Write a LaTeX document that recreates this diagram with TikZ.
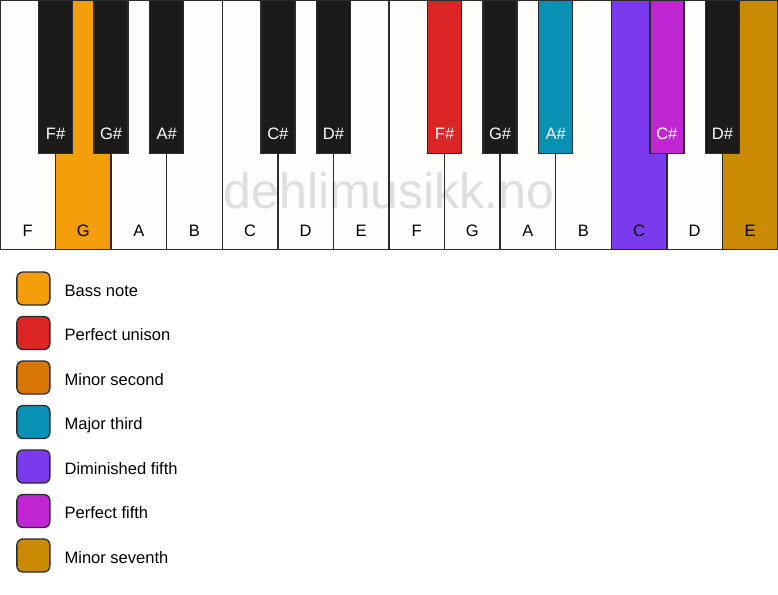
\documentclass[tikz,border=0pt]{standalone}
\usepackage{fontspec}
\setmainfont{Liberation Sans}
\usepackage{xcolor}
\usetikzlibrary{positioning}

\definecolor{keyline}{HTML}{2B2B2B}
\definecolor{keywhite}{HTML}{FFFDF9}
\definecolor{keyblack}{HTML}{1C1B19}
\definecolor{bassnote}{HTML}{F59E0B}
\definecolor{unison}{HTML}{DC2626}
\definecolor{minsecond}{HTML}{D97706}
\definecolor{majthird}{HTML}{0891B2}
\definecolor{dimfifth}{HTML}{7C3AED}
\definecolor{perffifth}{HTML}{C026D3}
\definecolor{minseventh}{HTML}{CA8A04}

\newcommand{\keyfont}{\fontsize{12.4}{14}\selectfont}

\tikzset{
  wkey/.style={draw=keyline, line width=1pt, fill=keywhite, anchor=north west,
    minimum width=41.68pt, minimum height=186.75pt, inner sep=0pt, outer sep=0pt},
  bkey/.style={draw=keyline, line width=1pt, fill=keyblack, anchor=north,
    minimum width=25.5pt, minimum height=114.75pt, inner sep=0pt, outer sep=0pt},
  wlabel/.style={anchor=base, font=\keyfont, text=black, inner sep=0pt},
  blabel/.style={anchor=base, font=\keyfont, text=white, inner sep=0pt},
  legbox/.style={draw=keyline, line width=1pt, rounded corners=4.5pt,
    minimum size=24.75pt, inner sep=0pt},
  legtext/.style={anchor=base west, font=\keyfont, inner sep=0pt},
}

\begin{document}
\begin{tikzpicture}[x=0.75pt, y=-0.75pt]
\useasboundingbox[fill=white] (0,0) rectangle (778,594);
%white keys
\node[wkey] (wF1) at (0.5,0.5) {};
\node[wkey, fill=bassnote] (wG1) at (55.57,0.5) {};
\node[wkey] (wA1) at (111.14,0.5) {};
\node[wkey] (wB1) at (166.71,0.5) {};
\node[wkey] (wC1) at (222.29,0.5) {};
\node[wkey] (wD1) at (277.86,0.5) {};
\node[wkey] (wE1) at (333.43,0.5) {};
\node[wkey] (wF2) at (389.00,0.5) {};
\node[wkey] (wG2) at (444.57,0.5) {};
\node[wkey] (wA2) at (500.14,0.5) {};
\node[wkey] (wB2) at (555.71,0.5) {};
\node[wkey, fill=dimfifth] (wC2) at (611.29,0.5) {};
\node[wkey] (wD2) at (666.86,0.5) {};
\node[wkey, fill=minseventh, minimum width=41.3pt] (wE2) at (722.43,0.5) {};

\node[wlabel] (lF1) at (27.79,236) {F};
\node[wlabel] (lG1) at (83.36,236) {G};
\node[wlabel] (lA1) at (138.93,236) {A};
\node[wlabel] (lB1) at (194.50,236) {B};
\node[wlabel] (lC1) at (250.07,236) {C};
\node[wlabel] (lD1) at (305.64,236) {D};
\node[wlabel] (lE1) at (361.21,236) {E};
\node[wlabel] (lF2) at (416.79,236) {F};
\node[wlabel] (lG2) at (472.36,236) {G};
\node[wlabel] (lA2) at (527.93,236) {A};
\node[wlabel] (lB2) at (583.50,236) {B};
\node[wlabel] (lC2) at (639.07,236) {C};
\node[wlabel] (lD2) at (694.64,236) {D};
\node[wlabel] (lE2) at (750.21,236) {E};

%black keys
\node[bkey] (bFs1) at (55.57,0.5) {};
\node[bkey] (bGs1) at (111.14,0.5) {};
\node[bkey] (bAs1) at (166.71,0.5) {};
\node[bkey] (bCs1) at (277.86,0.5) {};
\node[bkey] (bDs1) at (333.43,0.5) {};
\node[bkey, fill=unison] (bFs2) at (444.57,0.5) {};
\node[bkey] (bGs2) at (500.14,0.5) {};
\node[bkey, fill=majthird] (bAs2) at (555.71,0.5) {};
\node[bkey, fill=perffifth] (bCs2) at (666.86,0.5) {};
\node[bkey] (bDs2) at (722.43,0.5) {};

\node[blabel] (lFs1) at (55.57,139) {F\#};
\node[blabel] (lGs1) at (111.14,139) {G\#};
\node[blabel] (lAs1) at (166.71,139) {A\#};
\node[blabel] (lCs1) at (277.86,139) {C\#};
\node[blabel] (lDs1) at (333.43,139) {D\#};
\node[blabel] (lFs2) at (444.57,139) {F\#};
\node[blabel] (lGs2) at (500.14,139) {G\#};
\node[blabel] (lAs2) at (555.71,139) {A\#};
\node[blabel] (lCs2) at (666.86,139) {C\#};
\node[blabel] (lDs2) at (722.43,139) {D\#};

%watermark
\node[text=black, opacity=0.12, font=\fontsize{37.5}{38}\selectfont] (wmark) at (389,191) {dehlimusikk.no};

%legend
\node[legbox, fill=bassnote]   (boxBass)  at (33.4,288.5) {};
\node[legbox, fill=unison]     (boxUnis)  at (33.4,333.0) {};
\node[legbox, fill=minsecond]  (boxMin2)  at (33.4,377.5) {};
\node[legbox, fill=majthird]   (boxMaj3)  at (33.4,422.0) {};
\node[legbox, fill=dimfifth]   (boxDim5)  at (33.4,466.5) {};
\node[legbox, fill=perffifth]  (boxPerf5) at (33.4,511.0) {};
\node[legbox, fill=minseventh] (boxMin7)  at (33.4,555.5) {};

\node[legtext] (txtBass)  at (64.3,296.0) {Bass note};
\node[legtext] (txtUnis)  at (64.3,340.5) {Perfect unison};
\node[legtext] (txtMin2)  at (64.3,385.0) {Minor second};
\node[legtext] (txtMaj3)  at (64.3,429.5) {Major third};
\node[legtext] (txtDim5)  at (64.3,474.0) {Diminished fifth};
\node[legtext] (txtPerf5) at (64.3,518.5) {Perfect fifth};
\node[legtext] (txtMin7)  at (64.3,563.0) {Minor seventh};
\end{tikzpicture}
\end{document}
